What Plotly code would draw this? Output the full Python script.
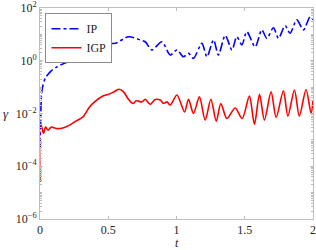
import numpy as np
import plotly.graph_objects as go

# IP series (t, log10 gamma)
ip_t = [0, 0.0044, 0.0146, 0.039, 0.075, 0.124, 0.198, 0.271, 0.344, 0.417, 0.485, 0.551,
        0.649, 0.734, 0.771, 0.820, 0.893, 0.954, 1.003, 1.051, 1.088, 1.124, 1.186, 1.223,
        1.271, 1.307, 1.357, 1.406, 1.442, 1.479, 1.515, 1.576, 1.625, 1.662, 1.710, 1.747,
        1.796, 1.832, 1.881, 1.930, 1.979, 2.0]
ip_log = [-3.28, -2.44, -1.11, -0.66, -0.42, -0.23, -0.06, 0.05, 0.15, 0.41, 0.66, 0.66,
          0.91, 0.79, 0.72, 0.41, 0.72, 0.22, 0.41, 0.15, 0.28, 0.09, 0.66, 0.15,
          0.79, 0.22, 0.96, 0.41, 0.91, 0.60, 1.10, 0.53, 1.17, 0.85, 1.25, 0.85,
          1.33, 1.04, 1.55, 1.17, 1.67, 1.55]

# IGP series (t, log10 gamma)
igp_t = [0, 0.002, 0.013, 0.026, 0.041, 0.059, 0.083, 0.119, 0.168, 0.217, 0.266, 0.315,
         0.363, 0.400, 0.461, 0.498, 0.534, 0.578, 0.612, 0.644, 0.681, 0.705, 0.747, 0.771,
         0.807, 0.844, 0.881, 0.905, 0.930, 0.954, 1.003, 1.059, 1.088, 1.124, 1.168, 1.210,
         1.252, 1.291, 1.325, 1.369, 1.430, 1.481, 1.534, 1.571, 1.608, 1.644, 1.693, 1.730,
         1.783, 1.816, 1.864, 1.900, 1.949, 1.986, 2.0]
igp_log = [-4.60, -2.38, -2.52, -2.76, -2.51, -2.63, -2.51, -2.57, -2.55, -2.44, -2.28, -2.13,
           -1.75, -1.56, -1.34, -1.28, -1.20, -1.08, -1.18, -1.43, -1.62, -1.52, -1.56, -1.46,
           -1.65, -1.47, -1.49, -1.62, -1.56, -1.68, -1.30, -1.94, -1.46, -2.00, -1.37, -2.25,
           -1.46, -2.29, -1.62, -2.19, -1.79, -2.19, -1.34, -2.41, -1.27, -2.25, -1.18, -2.15,
           -1.14, -2.10, -1.11, -2.10, -1.09, -2.00, -1.49]

x_ticks = [0, 0.5, 1, 1.5, 2]
x_labels = ["0", "0.5", "1", "1.5", "2"]
y_exps = [-6, -4, -2, 0, 2]

ip_y = [10 ** v for v in ip_log]
igp_y = [10 ** v for v in igp_log]

font_family = "Liberation Serif"
axis_col = "#bdbdbd"
text_col = "#262626"

fig = go.Figure()
fig.add_trace(go.Scatter(x=ip_t, y=ip_y, mode="lines", name="IP",
                         line=dict(color="#0000ff", width=1.6, dash="dashdot", shape="spline", smoothing=0.8)))
fig.add_trace(go.Scatter(x=igp_t, y=igp_y, mode="lines", name="IGP",
                         line=dict(color="#ff0000", width=1.6, shape="spline", smoothing=0.8)))

minor_vals = []
for e in range(-6, 2):
    for m in range(1, 10):
        v = m * 10 ** e
        if m == 1 and e % 2 == 0:
            continue
        minor_vals.append(v)

fig.update_layout(
    width=316, height=250,
    margin=dict(l=40, r=3, t=8, b=31, autoexpand=False),
    paper_bgcolor="white", plot_bgcolor="white",
    font=dict(family=font_family, size=12, color=text_col),
    showlegend=True,
    legend=dict(x=0.02, y=0.975, xanchor="left", yanchor="top",
                bgcolor="white", bordercolor="#8c8c8c", borderwidth=1,
                font=dict(family=font_family, size=12, color=text_col),
                tracegroupgap=0, itemwidth=30),
    annotations=[
        dict(text="<i>t</i>", xref="paper", yref="paper", x=0.5, y=-0.1135,
             xanchor="center", yanchor="middle", showarrow=False,
             font=dict(family=font_family, size=12, color=text_col)),
        dict(text="<i>\u03b3</i>", xref="paper", yref="paper", x=-0.125, y=0.5,
             xanchor="center", yanchor="middle", showarrow=False,
             font=dict(family=font_family, size=13, color=text_col)),
    ],
)
fig.update_xaxes(
    range=[0, 2], tickvals=x_ticks, ticktext=x_labels, automargin=False,
    showline=True, linecolor=axis_col, linewidth=1, mirror="ticks",
    ticks="inside", ticklen=3, tickcolor=axis_col, showgrid=False, zeroline=False,
)
fig.update_yaxes(
    type="log", range=[-6, 2], automargin=False,
    tickvals=[10 ** e for e in y_exps],
    ticktext=["10<sup>\u2212%d</sup>" % (-e) if e < 0 else "10<sup>%d</sup>" % e for e in y_exps],
    showline=True, linecolor=axis_col, linewidth=1, mirror="ticks",
    ticks="inside", ticklen=3, tickcolor=axis_col, showgrid=False, zeroline=False,
    minor=dict(tickvals=minor_vals, ticks="inside", ticklen=2, tickcolor=axis_col, showgrid=False),
)

fig.write_html("out.html", config={"displayModeBar": False},
               post_script="document.body.style.margin='0';")
